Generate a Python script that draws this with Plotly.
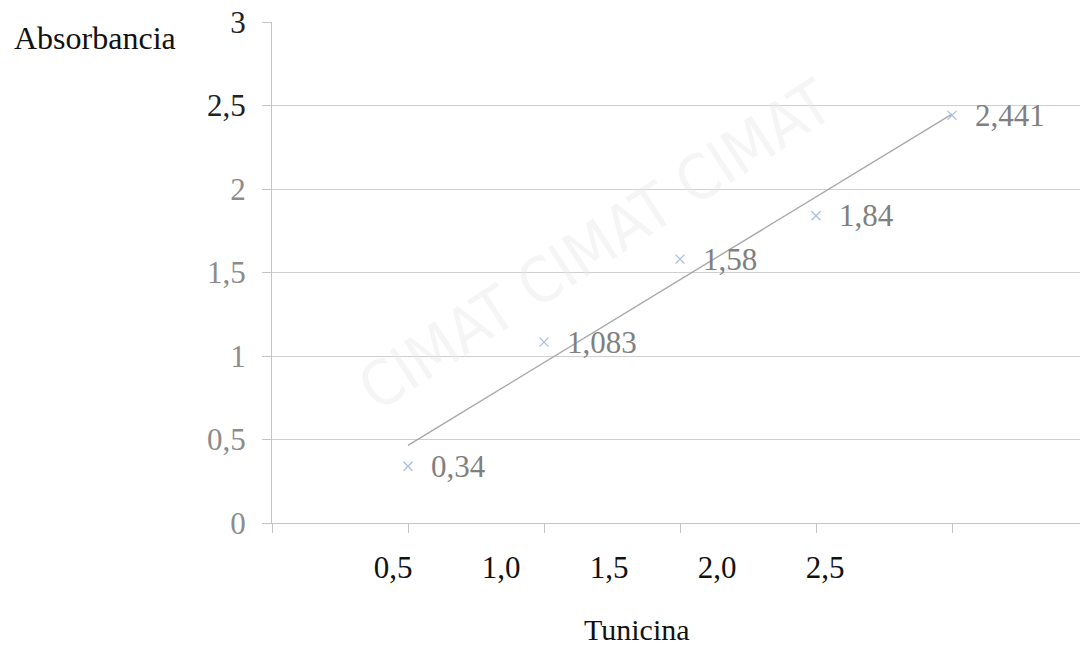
import numpy as np
import plotly.graph_objects as go

# ---- data ----
tunicina = [0.5, 1.0, 1.5, 2.0, 2.5]
absorbancia = [0.34, 1.083, 1.58, 1.84, 2.441]
point_labels = ["0,34", "1,083", "1,58", "1,84", "2,441"]

y_tickvals = [0, 0.5, 1, 1.5, 2, 2.5, 3]
y_ticktext = ["0", "0,5", "1", "1,5", "2", "2,5", "3"]
y_tickcolors = ["#8c8c8c", "#8c8c8c", "#8c8c8c", "#8c8c8c", "#8c8c8c", "#222222", "#222222"]
x_tickvals = [0.5, 1.0, 1.5, 2.0, 2.5]
x_ticktext = ["0,5", "1,0", "1,5", "2,0", "2,5"]

x_title = "Tunicina"
y_title = "Absorbancia"
watermark = "CIMAT CIMAT CIMAT"

# linear trend line from data
slope, intercept = np.polyfit(tunicina, absorbancia, 1)
trend_x = [min(tunicina), max(tunicina)]
trend_y = [slope * v + intercept for v in trend_x]

SERIF = "Liberation Serif, Times New Roman, serif"

fig = go.Figure()

# watermark (very faint)
fig.add_annotation(
    x=(595 - 272) / 808, y=1 - (245 - 22) / 501, xref="paper", yref="paper",
    text=watermark, showarrow=False, textangle=-33,
    font=dict(family="DejaVu Sans Condensed, Liberation Sans Narrow, Liberation Sans, sans-serif",
              size=62, color="rgba(230,230,230,0.4)"),
)

fig.add_trace(go.Scatter(
    x=trend_x, y=trend_y, mode="lines",
    line=dict(color="#a8a8a8", width=1.4),
    hoverinfo="skip", showlegend=False,
))
fig.add_trace(go.Scatter(
    x=tunicina, y=absorbancia, mode="markers",
    marker=dict(symbol="x-thin", size=9, line=dict(color="#a9bde3", width=1.3)),
    showlegend=False,
))
# invisible trace to keep the label axis alive
fig.add_trace(go.Scatter(
    x=x_tickvals, y=[None] * len(x_tickvals), xaxis="x2", mode="markers",
    marker=dict(opacity=0), hoverinfo="skip", showlegend=False,
))

for xv, yv, t in zip(tunicina, absorbancia, point_labels):
    fig.add_annotation(
        x=xv, y=yv, xref="x", yref="y", text=t, showarrow=False,
        xanchor="left", yanchor="middle", xshift=21,
        font=dict(family=SERIF, size=31, color="#808080"),
    )

# y title
fig.add_annotation(
    x=(12 - 272) / 808, y=1 + (22 - 38) / 501, xref="paper", yref="paper",
    text=y_title, showarrow=False, xanchor="left", yanchor="middle",
    font=dict(family=SERIF, size=32, color="#111111"),
)

# x title (at the bottom edge)
fig.add_annotation(
    x=(637 - 272) / 808, y=-(648 - 523) / 501, xref="paper", yref="paper",
    text=x_title, showarrow=False, xanchor="center", yanchor="bottom",
    font=dict(family=SERIF, size=30, color="#111111"),
)

fig.update_layout(
    width=1080, height=649,
    margin=dict(l=272, r=0, t=22, b=126),
    paper_bgcolor="white", plot_bgcolor="white",
    xaxis=dict(
        range=[0, 808 / 272], tickvals=[0, 0.5, 1.0, 1.5, 2.0, 2.5],
        showticklabels=False, ticks="outside", ticklen=9, tickcolor="#c4c4c4",
        showgrid=False, showline=True, linecolor="#c4c4c4", linewidth=1,
        zeroline=False,
    ),
    xaxis2=dict(
        overlaying="x", anchor="y", side="bottom",
        range=[0.5 - 121 / 216, 0.5 + 687 / 216],
        tickvals=x_tickvals, ticktext=x_ticktext, ticks="",
        showgrid=False, showline=False, zeroline=False,
        tickfont=dict(family=SERIF, size=31, color="#111111"),
        ticklabelstandoff=23,
    ),
    yaxis=dict(
        range=[0, 3], tickvals=y_tickvals,
        ticktext=[f"<span style='color:{c}'>{t}</span>" for t, c in zip(y_ticktext, y_tickcolors)],
        ticks="outside", ticklen=9, tickcolor="#c4c4c4",
        showgrid=True, gridcolor="#d0d0d0", gridwidth=1,
        showline=True, linecolor="#c4c4c4", linewidth=1, zeroline=False,
        tickfont=dict(family=SERIF, size=31, color="#8c8c8c"),
        ticklabelstandoff=10,
    ),
)

fig.write_html("out.html")
